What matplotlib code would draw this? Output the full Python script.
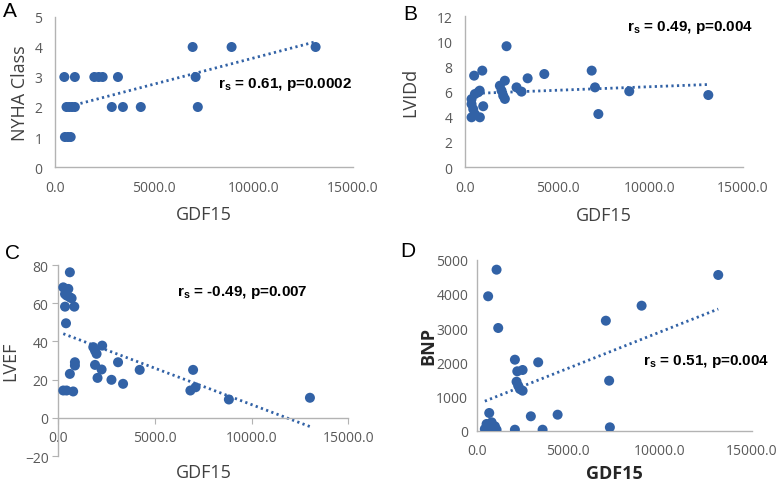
import numpy as np
import matplotlib
matplotlib.use("Agg")
import matplotlib.pyplot as plt
from matplotlib.ticker import FormatStrFormatter

plt.rcParams['font.family'] = ['Open Sans', 'DejaVu Sans']
plt.rcParams['mathtext.fontset'] = 'custom'
plt.rcParams['mathtext.rm'] = 'Liberation Sans'
plt.rcParams['mathtext.bf'] = 'Liberation Sans:bold'

# ---- data ----
# A: NYHA class
gdf_a = [500, 650, 790,
         580, 720, 860, 1000, 2860, 3420, 4320, 7190,
         470, 1000, 1980, 2200, 2400, 3170, 7080,
         6930, 8890, 13120]
nyha = [1, 1, 1,
        2, 2, 2, 2, 2, 2, 2, 2,
        3, 3, 3, 3, 3, 3, 3,
        4, 4, 4]

# B: LVIDd
gdf_b = [500, 940, 2250, 2160, 3390, 4290, 1890, 1980, 2070, 2160, 2790, 3060,
         800, 540, 360, 360, 450, 540, 810, 360, 990, 720,
         6850, 7030, 7210, 8880, 13150]
lvidd = [7.26, 7.66, 9.6, 6.86, 7.05, 7.39, 6.46, 6.07, 5.67, 5.41, 6.33, 5.99,
         6.07, 5.8, 5.4, 5.0, 4.6, 4.2, 3.95, 3.95, 4.83, 5.94,
         7.66, 6.33, 4.21, 6.02, 5.72]

# C: LVEF
gdf_c = [600, 260, 520, 350, 440, 600, 690, 350, 830, 400, 860, 860, 600,
         260, 430, 770, 1810, 1900, 1980, 2270, 1900, 2240, 2030, 2750, 3350,
         3090, 4210, 6970, 6830, 7100, 8820, 13010]
lvef = [76.2, 68.3, 67.5, 64.8, 64, 63.1, 62.6, 58.2, 58.2, 49.5, 29.1, 27.4, 23,
        14.3, 14.3, 13.8, 37, 35.2, 33.5, 37.8, 27.7, 25.3, 20.9, 19.9, 17.8,
        29.1, 25.1, 25.1, 14.3, 16.0, 9.6, 10.5]

# D: BNP
gdf_d = [2090, 3360, 2220, 2510, 2180, 2270, 2360, 2510, 690, 2960, 4420, 2090,
         3600, 545, 820, 450, 730, 1000, 1090, 630, 1090, 630, 1180,
         13180, 9000, 7050, 7230, 7270]
bnp = [2076, 2000, 1737, 1775, 1433, 1316, 1219, 1170, 518, 421, 468, 29,
       29, 196, 246, 50, 70, 129, 29, 0, 4708, 3930, 3003,
       4553, 3655, 3216, 1462, 99]

labels = ['A', 'B', 'C', 'D']
ylabels = ['NYHA Class', 'LVIDd', 'LVEF', 'BNP']
stats = [r'r$_{\mathbf{s}}$ = 0.61, p=0.0002',
         r'r$_{\mathbf{s}}$ = 0.49, p=0.004',
         r'r$_{\mathbf{s}}$ = -0.49, p=0.007',
         r'r$_{\mathbf{s}}$ = 0.51, p=0.004']

blue = '#3262a6'
axis_gray = '#b3b3b3'
tick_gray = '#595959'

fig = plt.figure(figsize=(7.8, 4.85), dpi=100)

# axes boxes (left, bottom, width, height)
boxes = [[0.0705, 0.6536, 0.382, 0.3093],
         [0.596, 0.6536, 0.356, 0.3113],
         [0.0747, 0.0577, 0.372, 0.3938],
         [0.611, 0.1099, 0.3526, 0.3526]]
ylims = [(0, 5), (0, 12), (-20, 80), (0, 5000)]
ysteps = [1, 2, 20, 1000]
stat_pos = [(8190, 2.77), (8760, 11.2), (6120, 65.9), (9070, 2047)]
ylab_x = [-0.117, -0.198, -0.167, -0.177]
xlab_y = [-0.25, -0.255, -0.035, -0.195]
letter_pos = [(0.004, 0.995), (0.517, 0.99), (0.006, 0.497), (0.513, 0.501)]

data = [(gdf_a, nyha), (gdf_b, lvidd), (gdf_c, lvef), (gdf_d, bnp)]

for i, (x, y) in enumerate(data):
    ax = fig.add_axes(boxes[i])
    x = np.array(x, dtype=float)
    y = np.array(y, dtype=float)

    # linear trendline like Excel
    k, b = np.polyfit(x, y, 1)
    xs = np.array([x.min(), x.max()])
    ax.plot(xs, k * xs + b, color=blue, lw=2, ls=(0, (0.8, 1.2)), zorder=2)
    ax.scatter(x, y, s=52, color=blue, edgecolors='none', zorder=3)

    ax.set_xlim(0, 15000)
    ax.set_ylim(*ylims[i])
    ax.set_xticks([0, 5000, 10000, 15000])
    ax.set_yticks(np.arange(ylims[i][0], ylims[i][1] + 0.1, ysteps[i]))
    ax.xaxis.set_major_formatter(FormatStrFormatter('%.1f'))

    for s in ['top', 'right']:
        ax.spines[s].set_visible(False)
    for s in ['left', 'bottom']:
        ax.spines[s].set_color(axis_gray)
        ax.spines[s].set_linewidth(1)

    if i == 2:
        ax.spines['bottom'].set_position(('data', 0))
        ax.tick_params(axis='both', length=4, color=axis_gray, direction='out')
        ax.tick_params(axis='x', pad=5)
        ax.tick_params(axis='y', pad=3)
    else:
        ax.tick_params(axis='both', length=0)
        ax.tick_params(axis='x', pad=9)
        ax.tick_params(axis='y', pad=9 if i < 2 else 6)
    ax.tick_params(labelsize=10, labelcolor=tick_gray)

    w = 'bold' if i == 3 else 'normal'
    lc = '#262626' if i == 3 else '#404040'
    ax.set_xlabel('GDF15', fontsize=13, color=lc, fontweight=w, va='top')
    ax.xaxis.set_label_coords(0.5, xlab_y[i])
    ax.set_ylabel(ylabels[i], fontsize=13, color=lc, fontweight=w, va='center')
    ax.yaxis.set_label_coords(ylab_x[i], 0.5)

    ax.text(stat_pos[i][0], stat_pos[i][1], stats[i], fontsize=11,
            fontweight='bold', family='Liberation Sans', color='black',
            ha='left', va='center', clip_on=False)

    fig.text(letter_pos[i][0], letter_pos[i][1], labels[i], fontsize=15,
             family='Liberation Sans', ha='left', va='top')

fig.savefig('out.png', dpi=100)
